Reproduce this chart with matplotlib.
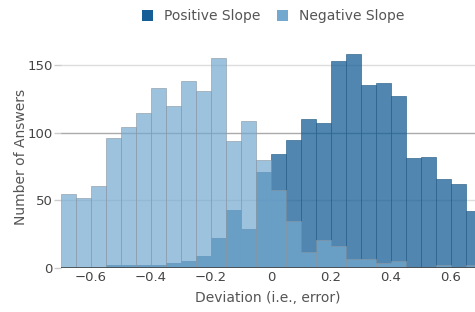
import numpy as np
import matplotlib
matplotlib.use('Agg')
import matplotlib.pyplot as plt
from matplotlib.patches import Patch

# bin edges (width 0.05) and counts
bin_left = np.round(np.arange(-0.70, 0.70, 0.05), 2)
positive = [0, 0, 0, 2, 2, 2, 2, 4, 5, 9, 22, 43, 29, 71,
            84, 95, 110, 107, 153, 158, 135, 137, 127, 81, 82, 66, 62, 42]
negative = [55, 52, 61, 96, 104, 115, 133, 120, 138, 131, 155, 94, 109, 80,
            58, 35, 12, 21, 16, 7, 7, 4, 5, 1, 1, 2, 1, 2]
xticks = [-0.6, -0.4, -0.2, 0, 0.2, 0.4, 0.6]
xticklabels = ['\u22120.6', '\u22120.4', '\u22120.2', '0', '0.2', '0.4', '0.6']
yticks = [0, 50, 100, 150]

pos_color = '#155e96'
neg_color = '#74a9cf'
txt = '#444444'

plt.rcParams['font.family'] = 'DejaVu Sans'
fig = plt.figure(figsize=(4.75, 3.12), dpi=100)
ax = fig.add_axes([0.128, 0.141, 0.872, 0.715])

for y in [50, 150]:
    ax.axhline(y, color='#dddddd', lw=1, zorder=0)
ax.axhline(100, color='#aaaaaa', lw=1, zorder=0)

ax.bar(bin_left, positive, width=0.05, align='edge', color=pos_color, alpha=0.75,
       edgecolor='#2a5f88', linewidth=0.6, zorder=2)
ax.bar(bin_left, negative, width=0.05, align='edge', color=neg_color, alpha=0.7,
       edgecolor='#8a98a4', linewidth=0.6, zorder=3)
ax.axhline(0, color='#444444', lw=1.2, zorder=4)

ax.set_xlim(-0.70, 0.68)
ax.set_ylim(0, 165)
ax.set_xticks(xticks)
ax.set_xticklabels(xticklabels)
ax.set_yticks(yticks)
ax.tick_params(axis='x', length=0, pad=2, labelsize=9.5, colors=txt)
ax.tick_params(axis='y', length=5, width=1, color='#cccccc', pad=1, labelsize=9.5, labelcolor=txt)
for s in ax.spines.values():
    s.set_visible(False)

ax.set_xlabel('Deviation (i.e., error)', fontsize=10, color='#555555', labelpad=5)
ax.set_ylabel('Number of Answers', fontsize=10, color='#555555')
ax.yaxis.set_label_coords(-0.08, 0.5)

handles = [Patch(facecolor=pos_color, edgecolor='none'),
           Patch(facecolor=neg_color, edgecolor='none')]
fig.legend(handles, ['Positive Slope', 'Negative Slope'], loc='center',
           bbox_to_anchor=(0.575, 0.948), ncol=2, frameon=False, fontsize=10,
           handlelength=0.8, handleheight=0.8, handletextpad=0.8, columnspacing=1.2,
           labelcolor='#555555')

fig.savefig('out.png', dpi=100)
